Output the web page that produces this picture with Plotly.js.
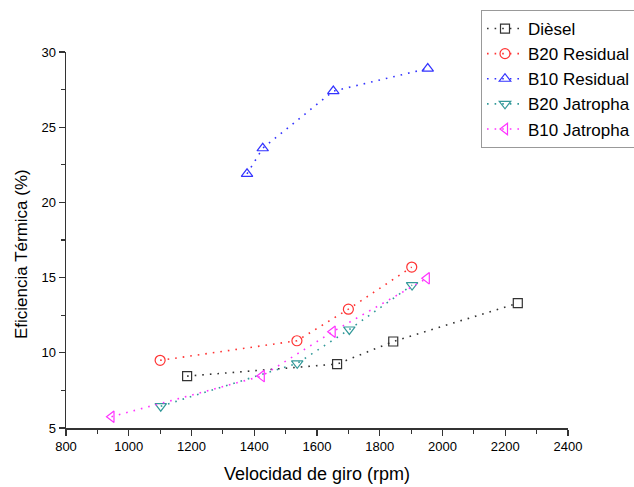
<!DOCTYPE html>
<html>
<head>
<meta charset="utf-8">
<script src="https://cdn.plot.ly/plotly-3.0.1.min.js"></script>
<style>html,body{margin:0;padding:0;background:#fff;}#chart{width:634px;height:487px;}</style>
</head>
<body>
<div id="chart"></div>
<script>
const seriesNames = ["Dièsel", "B20 Residual", "B10 Residual", "B20 Jatropha", "B10 Jatropha"];
const dieselX = [1186, 1664, 1843, 2240];
const dieselY = [8.45, 9.25, 10.75, 13.3];
const b20ResX = [1100, 1536, 1700, 1902];
const b20ResY = [9.5, 10.8, 12.9, 15.7];
const b10ResX = [1377, 1427, 1652, 1953];
const b10ResY = [21.9, 23.6, 27.4, 28.9];
const b20JatX = [1102, 1537, 1703, 1903];
const b20JatY = [6.45, 9.3, 11.55, 14.5];
const b10JatX = [945, 1424, 1650, 1950];
const b10JatY = [5.75, 8.45, 11.4, 14.95];
const xTicks = [800, 1000, 1200, 1400, 1600, 1800, 2000, 2200, 2400];
const yTicks = [5, 10, 15, 20, 25, 30];
const xTitle = "Velocidad de giro (rpm)";
const yTitle = "Eficiencia Térmica (%)";

const colors = ["#333333", "#ff3333", "#3333ff", "#339999", "#ff33ff"];
const symbols = ["square-open", "circle-open", "triangle-up-open", "triangle-down-open", "triangle-left-open"];
const sizes = [9, 10, 10, 10, 10];
const xs = [dieselX, b20ResX, b10ResX, b20JatX, b10JatX];
const ys = [dieselY, b20ResY, b10ResY, b20JatY, b10JatY];

const traces = seriesNames.map((n, i) => ({
  x: xs[i], y: ys[i], name: n, type: "scatter", mode: "lines+markers",
  line: {color: colors[i], width: 1.6, dash: "1.6px,6px"},
  marker: {symbol: symbols[i], size: sizes[i], color: colors[i], line: {width: 1.2, color: colors[i]}}
}));

const layout = {
  width: 634, height: 487,
  margin: {l: 66, r: 66, t: 52, b: 59, autoexpand: false},
  paper_bgcolor: "#fff", plot_bgcolor: "#fff",
  font: {family: "Liberation Sans, Arial, sans-serif", color: "#000"},
  showlegend: true,
  legend: {xref: "container", yref: "container", x: 481 / 634, y: 1 - 10 / 487, xanchor: "left", yanchor: "top",
    bordercolor: "#999", borderwidth: 1, bgcolor: "#fff", font: {size: 17, color: "#000"},
    tracegroupgap: 0, itemwidth: 36},
  xaxis: {
    range: [800, 2400], tickvals: xTicks, ticktext: xTicks.map(String),
    showgrid: false, zeroline: false, showline: true, linecolor: "#333", linewidth: 1.5,
    ticks: "outside", ticklen: 6, tickwidth: 1.2, tickcolor: "#333",
    minor: {dtick: 100, tick0: 800, ticklen: 4, tickcolor: "#333", ticks: "outside", showgrid: false},
    tickfont: {size: 13, color: "#000"},
    title: {text: xTitle, font: {size: 18, color: "#000"}, standoff: 14}
  },
  yaxis: {
    range: [5, 30], tickvals: yTicks, ticktext: yTicks.map(String),
    showgrid: false, zeroline: false, showline: true, linecolor: "#333", linewidth: 1.5,
    ticks: "outside", ticklen: 6, tickwidth: 1.2, tickcolor: "#333",
    minor: {dtick: 2.5, tick0: 5, ticklen: 4, tickcolor: "#333", ticks: "outside", showgrid: false},
    tickfont: {size: 13, color: "#000"}
  },
  annotations: [{
    text: yTitle, textangle: -90, showarrow: false,
    xref: "paper", yref: "paper", x: (21 - 66) / 502, y: (428 - 254) / 376,
    xanchor: "center", yanchor: "middle", font: {size: 17, color: "#000"}
  }]
};

Plotly.newPlot("chart", traces, layout, {displayModeBar: false, staticPlot: true});
</script>
</body>
</html>
